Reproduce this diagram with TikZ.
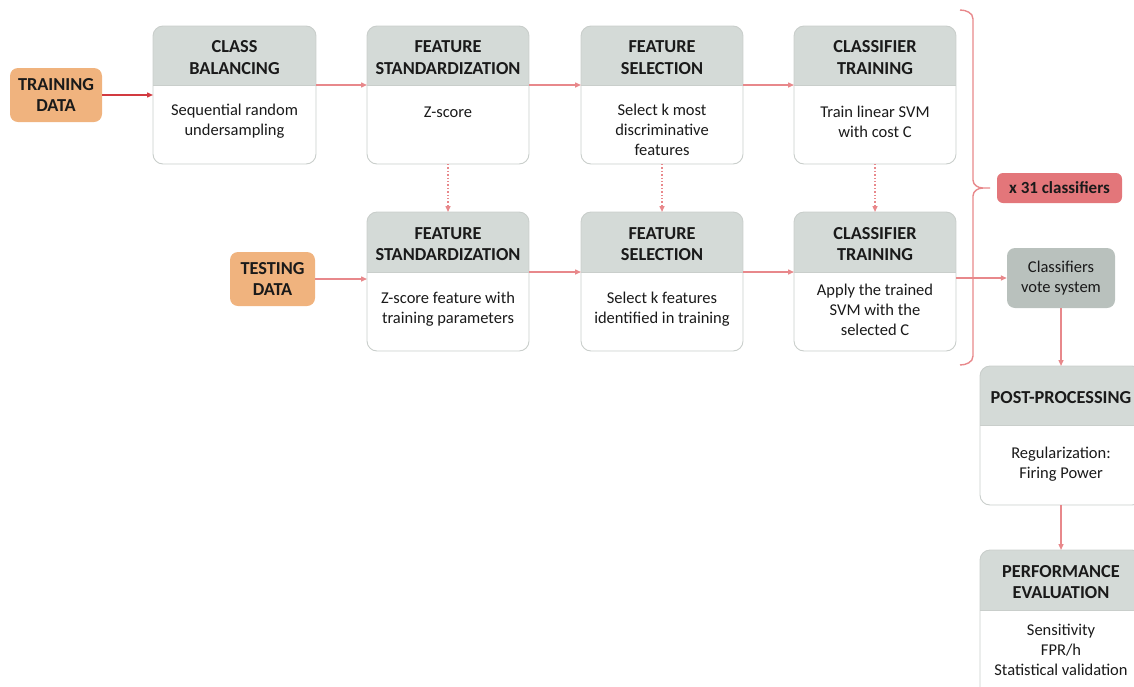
\documentclass[tikz,border=0pt]{standalone}
\usepackage{fontspec}
\setmainfont{Carlito}
\usetikzlibrary{arrows.meta}

\definecolor{hdrgray}{HTML}{D4DAD7}
\definecolor{framegray}{HTML}{C9CECB}
\definecolor{votegray}{HTML}{B9C1BD}
\definecolor{inputorange}{HTML}{F0B37E}
\definecolor{countred}{HTML}{E3767A}
\definecolor{flowred}{HTML}{E8888B}
\definecolor{feedred}{HTML}{D23A40}
\definecolor{txt}{HTML}{1A1A1A}

\tikzset{
  stageframe/.style={rectangle, inner sep=0pt, outer sep=0pt, draw=none},
  boxline/.style={draw=framegray, line width=0.9pt},
  hdrtext/.style={font=\bfseries\fontsize{18.3}{21.5}\selectfont, align=center, text=txt, inner sep=0pt},
  bodytext/.style={font=\fontsize{16.5}{20}\selectfont, align=center, text=txt, inner sep=0pt},
  inputbox/.style={rectangle, rounded corners=8pt, fill=inputorange, draw=none,
    font=\bfseries\fontsize{18.3}{21.5}\selectfont, align=center, text=txt, inner sep=0pt},
  flow/.style={draw=flowred, line width=1.4pt, -{Triangle[length=6pt,width=5pt]}},
  feed/.style={draw=feedred, line width=1.4pt, -{Triangle[length=6pt,width=5pt]}},
  carry/.style={draw=flowred, line width=1.4pt, dotted, -{Triangle[length=6pt,width=5pt]}},
}

% stage box: name, left, top, right, bottom, header bottom, header text, body text, body centre y
\newcommand{\stagebox}[9]{%
  \node[stageframe, minimum width={(#4-#2)*1pt}, minimum height={(#5-#3)*1pt}] (#1) at ({(#2+#4)/2},{(#3+#5)/2}) {};
  \begin{scope}
    \clip[rounded corners=10pt] (#1.north west) rectangle (#1.south east);
    \fill[white] (#1.north west) rectangle (#1.south east);
    \fill[hdrgray] (#1.north west) rectangle (#4,#6);
  \end{scope}
  \draw[boxline] (#2,#6) -- (#4,#6);
  \draw[boxline, rounded corners=10pt] (#1.north west) rectangle (#1.south east);
  \node[hdrtext] (#1-h) at ({(#2+#4)/2},{(#3+#6)/2+2}) {#7};
  \node[bodytext] (#1-b) at ({(#2+#4)/2},#9) {#8};
}

\begin{document}
\begin{tikzpicture}[x=1pt, y=-1pt]
\useasboundingbox (0,0) rectangle (1134,686);

% training pipeline
\stagebox{cb}{153}{26}{316}{164}{85}{CLASS\\BALANCING}{Sequential random\\undersampling}{121}
\stagebox{fs}{367}{26}{529}{164}{85}{FEATURE\\STANDARDIZATION}{Z-score}{112}
\stagebox{fsel}{581}{26}{743}{164}{85}{FEATURE\\SELECTION}{Select k most\\discriminative\\features}{130}
\stagebox{ct}{794}{26}{956}{164}{85}{CLASSIFIER\\TRAINING}{Train linear SVM\\with cost C}{122}

% testing pipeline
\stagebox{tfs}{367}{212}{529}{351}{272}{FEATURE\\STANDARDIZATION}{Z-score feature with\\training parameters}{309}
\stagebox{tfsel}{581}{212}{743}{351}{272}{FEATURE\\SELECTION}{Select k features\\identified in training}{309}
\stagebox{tct}{794}{212}{956}{351}{272}{CLASSIFIER\\TRAINING}{Apply the trained\\SVM with the\\selected C}{310}

% final stages
\stagebox{post}{980}{366}{1142}{505}{425}{POST-PROCESSING}{Regularization:\\Firing Power}{464}
\stagebox{perf}{980}{550}{1142}{700}{610}{PERFORMANCE\\EVALUATION}{Sensitivity\\FPR/h\\Statistical validation}{650}

% data sources
\node[inputbox, minimum width=92pt, minimum height=54pt] (train) at (56,95) {TRAINING\\DATA};
\node[inputbox, minimum width=85pt, minimum height=54pt] (test) at (272.5,279) {TESTING\\DATA};

% ensemble and voting
\node[rectangle, rounded corners=6pt, fill=countred, minimum width=125pt, minimum height=30pt,
  inner sep=0pt, font=\bfseries\fontsize{17}{20}\selectfont, text=txt] (count) at (1059.5,188) {x 31 classifiers};
\node[rectangle, rounded corners=8pt, fill=votegray, minimum width=108pt, minimum height=60pt,
  inner sep=0pt, align=center, font=\fontsize{16.5}{20}\selectfont, text=txt] (vote) at (1061,278) {Classifiers\\vote system};

% brace grouping the repeated classifiers
\draw[draw=flowred, line width=1.4pt]
  (960,10) to[out=0,in=90] (973,19) -- (973,180) to[out=-90,in=180] (983,188) -- (990,188)
  (983,188) to[out=180,in=90] (973,196) -- (973,356) to[out=-90,in=0] (960,365);

% training flow
\draw[feed] (train.east) -- (cb.west |- train.east);
\draw[flow] (cb.east |- 0,85) -- (fs.west |- 0,85);
\draw[flow] (fs.east |- 0,85) -- (fsel.west |- 0,85);
\draw[flow] (fsel.east |- 0,85) -- (ct.west |- 0,85);

% parameters carried to testing
\draw[carry] (fs.south) -- (tfs.north);
\draw[carry] (fsel.south) -- (tfsel.north);
\draw[carry] (ct.south) -- (tct.north);

% testing flow
\draw[flow] (test.east) -- (tfs.west |- test.east);
\draw[flow] (tfs.east |- 0,272) -- (tfsel.west |- 0,272);
\draw[flow] (tfsel.east |- 0,272) -- (tct.west |- 0,272);
\draw[flow] (tct.east |- vote.west) -- (vote.west);
\draw[flow] (vote.south) -- (post.north);
\draw[flow] (post.south) -- (perf.north);
\end{tikzpicture}
\end{document}
